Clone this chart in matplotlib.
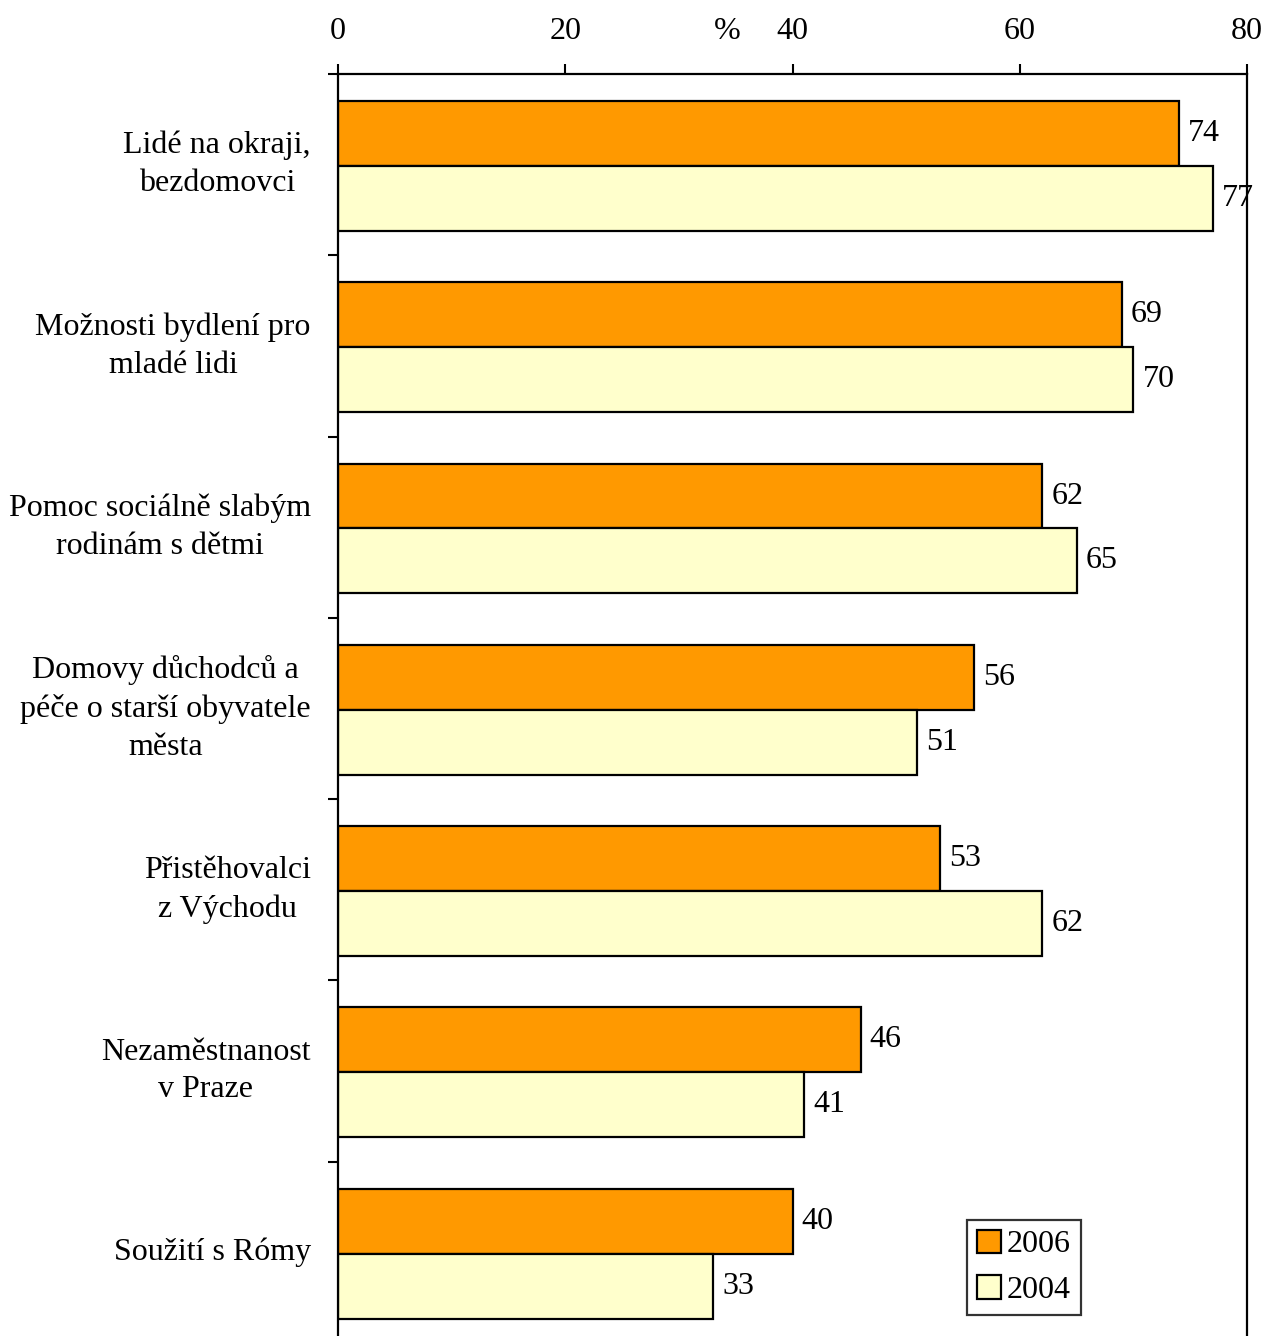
import matplotlib
matplotlib.use("Agg")
import matplotlib.pyplot as plt
import matplotlib.transforms as mtransforms
import numpy as np

categories = [
    "Lidé na okraji,\nbezdomovci",
    "Možnosti bydlení pro\nmladé lidi",
    "Pomoc sociálně slabým\nrodinám s dětmi",
    "Domovy důchodců a\npéče o starší obyvatele\nměsta",
    "Přistěhovalci\nz Východu",
    "Nezaměstnanost\nv Praze",
    "Soužití s Rómy",
]
values_2006 = [74, 69, 62, 56, 53, 46, 40]
values_2004 = [77, 70, 65, 51, 62, 41, 33]
series_names = ["2006", "2004"]
xticks = [0, 20, 40, 60, 80]

plt.rcParams['font.family'] = ['Liberation Serif', 'DejaVu Serif']
FS = 23

fig = plt.figure(figsize=(12.67, 13.36), dpi=100)
ax = fig.add_axes([338/1267, 1 - 1343/1336, (1247-338)/1267, (1343-74)/1336])

y = np.arange(len(categories))
h = 0.358
off = 0.007
b1 = ax.barh(y - h/2 + off, values_2006, height=h, color="#FF9900", edgecolor="black", linewidth=1.6, label=series_names[0])
b2 = ax.barh(y + h/2 + off, values_2004, height=h, color="#FFFFCC", edgecolor="black", linewidth=1.6, label=series_names[1])

ax.set_xlim(0, 80)
ax.set_ylim(len(categories) - 0.5, -0.5)

ax.xaxis.tick_top()
ax.set_xticks(xticks)
ax.set_xticklabels([str(t) for t in xticks], fontsize=FS)
ax.tick_params(axis='x', direction='out', length=7, width=1.5, pad=13)

ax.set_yticks(np.arange(-0.5, len(categories), 1))
ax.set_yticklabels([])
ax.tick_params(axis='y', direction='out', length=7, width=1.5)

trans = mtransforms.blended_transform_factory(ax.transAxes, ax.transData)
for i, c in enumerate(categories):
    ax.text(-0.03, i, c, transform=trans, ha='right', va='center',
            multialignment='center', fontsize=FS, linespacing=1.4)

for bars, vals in ((b1, values_2006), (b2, values_2004)):
    for bar, v in zip(bars, vals):
        ax.text(v + 0.8, bar.get_y() + bar.get_height()/2, str(v),
                ha='left', va='center', fontsize=FS)

ax.text(34.3, 1.0, "%", transform=mtransforms.blended_transform_factory(ax.transData, ax.transAxes),
        ha='center', va='bottom', fontsize=FS)
for s in ['left', 'top', 'right']:
    ax.spines[s].set_linewidth(1.6)
ax.spines['bottom'].set_visible(False)

leg = fig.legend(loc='upper left', bbox_to_anchor=(967/1267, 1 - 1220/1336),
                 fontsize=FS, frameon=True, fancybox=False, edgecolor='black',
                 handlelength=0.75, handleheight=0.75, handletextpad=0.2,
                 borderpad=0.3, labelspacing=0.5, borderaxespad=0)
leg.get_frame().set_linewidth(1.6)

fig.canvas.draw()
tl = ax.get_xticklabels()[0]
bb = tl.get_window_extent()
inv = ax.transAxes.inverted()
ypos = inv.transform((0, bb.y0))[1]
for t in ax.texts:
    if t.get_text() == "%":
        t.set_y(ypos)

fig.savefig("out.png", dpi=100)
